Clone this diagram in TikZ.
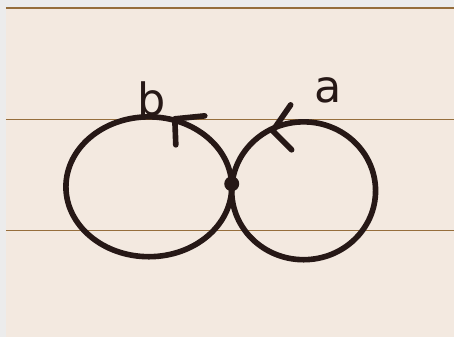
\documentclass[tikz,border=0pt]{standalone}
\usepackage{fontspec}
\setsansfont{DejaVu Sans}
\usetikzlibrary{calc}
\definecolor{paper}{RGB}{243,233,224}
\definecolor{edge}{RGB}{236,236,236}
\definecolor{rule}{RGB}{150,110,60}
\definecolor{ink}{RGB}{38,24,22}

\begin{document}
\begin{tikzpicture}[x=0.03cm,y=-0.03cm, every node/.style={font=\sffamily\fontsize{38}{38}\selectfont, text=ink},
    penline/.style={draw=ink, line width=4.8pt, line cap=round, line join=round},
    ruleline/.style={draw=rule, line width=0.9pt}]
    % sheet and ruling
    \fill[edge] (0,0) rectangle (455,337);
    \fill[paper] (6,8) rectangle (455,337);
    \draw[ruleline] (6,8) -- (455,8);
    \draw[ruleline] (6,120) -- (455,120);
    \draw[ruleline] (6,231) -- (455,231);
    \useasboundingbox (0,0) rectangle (455,337);
    % the two loops
    \coordinate (pt) at (232,184);
    \draw[penline] (149,187) ellipse[x radius=83, y radius=70];
    \draw[penline] (304,191) ellipse[x radius=72, y radius=69];
    \fill[ink] (pt) circle[radius=7.5];
    % arrowheads
    \draw[penline] (205,116) -- (175,119) -- (176,145);
    \draw[penline] (291,105) -- (273,131) -- (292,150);
    % labels
    \node[anchor=base] (b) at (152,116) {b};
    \node[anchor=base] (a) at (328,103) {a};
\end{tikzpicture}
\end{document}
